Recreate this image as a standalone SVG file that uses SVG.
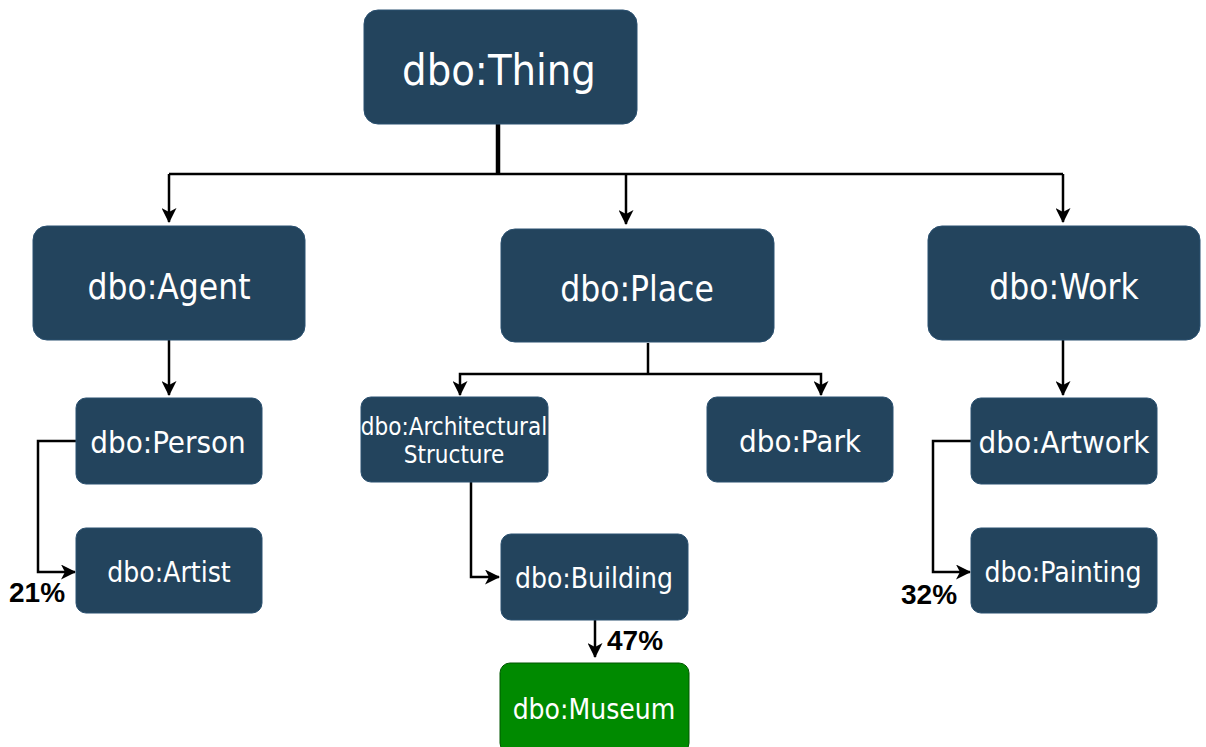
<svg xmlns="http://www.w3.org/2000/svg" width="1206" height="747" viewBox="0 0 1206 747">
  <style>
    .node { fill: #23445D; stroke: #2a5070; stroke-width: 1; }
    .leaf { fill: #008A00; stroke: #005700; stroke-width: 1; }
    .lbl { fill: #ffffff; font-family: "DejaVu Sans Condensed", "DejaVu Sans", sans-serif; text-anchor: middle; dominant-baseline: central; }
    .edge { fill: none; stroke: #000000; stroke-width: 2.5; }
    .pct { fill: #000000; font-family: "Liberation Sans", Arial, sans-serif; font-weight: bold; font-size: 28px; }
  </style>
  <defs>
    <marker id="arrow" viewBox="0 0 15 15" refX="14" refY="7.5" markerWidth="15" markerHeight="15" markerUnits="userSpaceOnUse" orient="auto">
      <path d="M0,0 L15,7.5 L0,15 L4,7.5 Z" fill="#000000"/>
    </marker>
  </defs>

  <g id="connectors">
    <!-- root fan-out -->
    <line x1="498" y1="124" x2="498" y2="175" stroke="#000" stroke-width="4.5"/>
    <path class="edge" d="M169,174 L1063,174"/>
    <path class="edge" d="M169,174 L169,222" marker-end="url(#arrow)"/>
    <path class="edge" d="M626,174 L626,224" marker-end="url(#arrow)"/>
    <path class="edge" d="M1063,174 L1063,222" marker-end="url(#arrow)"/>
    <!-- agent -> person -->
    <path class="edge" d="M169,340 L169,395" marker-end="url(#arrow)"/>
    <!-- person -> artist -->
    <path class="edge" d="M76,441 L38,441 L38,572 L75,572" marker-end="url(#arrow)"/>
    <!-- place -> children -->
    <path class="edge" d="M648,343 L648,374"/>
    <path class="edge" d="M648,374 L460,374 L460,395" marker-end="url(#arrow)"/>
    <path class="edge" d="M648,374 L821,374 L821,395" marker-end="url(#arrow)"/>
    <!-- architectural structure -> building -->
    <path class="edge" d="M471,482 L471,577 L499,577" marker-end="url(#arrow)"/>
    <!-- building -> museum -->
    <path class="edge" d="M595,620 L595,657" marker-end="url(#arrow)"/>
    <!-- work -> artwork -->
    <path class="edge" d="M1063,340 L1063,395" marker-end="url(#arrow)"/>
    <!-- artwork -> painting -->
    <path class="edge" d="M971,441 L933,441 L933,572 L970,572" marker-end="url(#arrow)"/>
    <text class="pct" x="9" y="602">21%</text>
    <text class="pct" x="607" y="650">47%</text>
    <text class="pct" x="901" y="604">32%</text>
  </g>

  <g id="thing">
    <rect class="node" x="364" y="10" width="273" height="114" rx="14"/>
    <text class="lbl" x="499" y="70" font-size="43">dbo:Thing</text>
  </g>
  <g id="agent">
    <rect class="node" x="33" y="226" width="272" height="114" rx="14"/>
    <text class="lbl" x="169" y="287" font-size="35">dbo:Agent</text>
  </g>
  <g id="place">
    <rect class="node" x="501" y="229" width="273" height="113" rx="14"/>
    <text class="lbl" x="637" y="289" font-size="35">dbo:Place</text>
  </g>
  <g id="work">
    <rect class="node" x="928" y="226" width="272" height="114" rx="14"/>
    <text class="lbl" x="1064" y="287" font-size="35">dbo:Work</text>
  </g>
  <g id="person">
    <rect class="node" x="76" y="398" width="186" height="86" rx="10"/>
    <text class="lbl" x="168" y="442" font-size="31">dbo:Person</text>
  </g>
  <g id="artist">
    <rect class="node" x="76" y="528" width="186" height="85" rx="10"/>
    <text class="lbl" x="169" y="572" font-size="28">dbo:Artist</text>
  </g>
  <g id="architectural-structure">
    <rect class="node" x="361" y="397" width="187" height="85" rx="10"/>
    <text class="lbl" x="454" y="427" font-size="24">dbo:Architectural</text>
    <text class="lbl" x="454" y="455" font-size="24">Structure</text>
  </g>
  <g id="park">
    <rect class="node" x="707" y="397" width="186" height="85" rx="10"/>
    <text class="lbl" x="800" y="441" font-size="31">dbo:Park</text>
  </g>
  <g id="building">
    <rect class="node" x="501" y="534" width="187" height="86" rx="10"/>
    <text class="lbl" x="594" y="578" font-size="28">dbo:Building</text>
  </g>
  <g id="museum">
    <rect class="leaf" x="500" y="663" width="189" height="90" rx="10"/>
    <text class="lbl" x="594" y="709" font-size="28">dbo:Museum</text>
  </g>
  <g id="artwork">
    <rect class="node" x="971" y="398" width="186" height="86" rx="10"/>
    <text class="lbl" x="1064" y="442" font-size="31">dbo:Artwork</text>
  </g>
  <g id="painting">
    <rect class="node" x="971" y="528" width="186" height="85" rx="10"/>
    <text class="lbl" x="1063" y="572" font-size="28">dbo:Painting</text>
  </g>
</svg>
